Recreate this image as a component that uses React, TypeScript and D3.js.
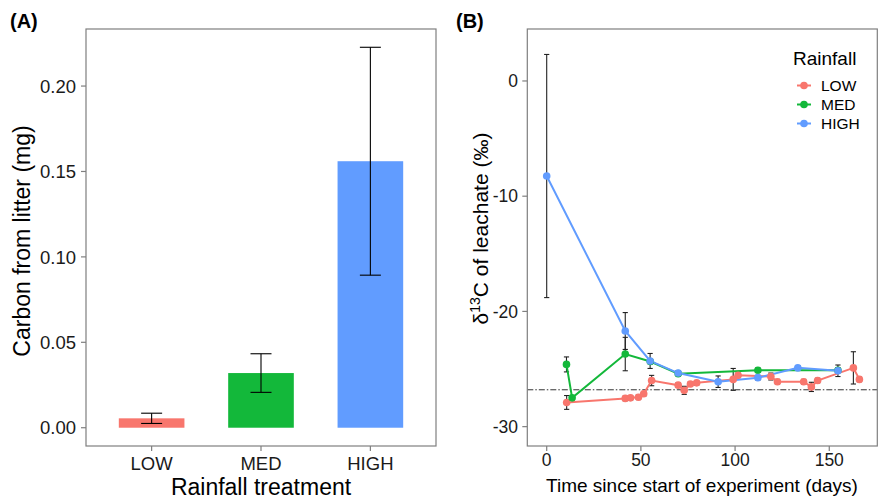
import * as d3 from "d3";

// panel A: carbon from litter (mg)
const treatments = ["LOW", "MED", "HIGH"];
const carbonMean = [0.0055, 0.032, 0.156];
const carbonSe = [0.003, 0.0113, 0.0667];
const treatColors = ["#F8766D", "#13B83A", "#619CFF"];
const carbonTicks = [0, 0.05, 0.1, 0.15, 0.2];

// panel B: d13C of leachate over time
const lowDays = [10.6, 41.7, 44.5, 48.7, 51.5, 55.7, 69.8, 73.0, 76.3, 79.6, 99.0, 101.6, 119.0, 122.5, 136.4, 140.5, 143.8, 162.8, 166.0];
const lowD13C = [-27.9, -27.55, -27.5, -27.45, -27.15, -26.0, -26.4, -26.85, -26.3, -26.2, -25.9, -25.55, -25.65, -26.1, -26.1, -26.55, -26.0, -24.9, -25.9];
const lowSe = [0.6, 0.2, 0.2, 0.2, 0.2, 0.45, 0.2, 0.35, 0.2, 0.2, 0.95, 0.2, 0.3, 0.2, 0.2, 0.4, 0.2, 1.4, 0.2];

const medDays = [10.5, 13.5, 41.7, 55.0, 69.8, 112.1, 154.6];
const medD13C = [-24.6, -27.5, -23.7, -24.35, -25.4, -25.1, -25.1];
const medSe = [0.65, 0.2, 1.45, 0.2, 0.2, 0.2, 0.2];

const highDays = [0, 41.7, 54.9, 69.8, 91.0, 112.1, 133.3, 154.6];
const highD13C = [-8.25, -21.7, -24.3, -25.35, -26.1, -25.75, -24.9, -25.15];
const highSe = [10.55, 1.6, 0.65, 0.2, 0.5, 0.2, 0.2, 0.5];

const litterRef = -26.8;
const dayTicks = [0, 50, 100, 150];
const d13CTicks = [0, -10, -20, -30];

const font = "'Liberation Sans', Arial, Helvetica, sans-serif";

const App = () => {
  const top = 29;
  const bottom = 446;

  // panel A scales
  const xA = d3.scalePoint().domain(treatments).range([86, 436]).padding(0.6);
  const stepA = xA.step();
  const yA = d3.scaleLinear().domain([-0.0107, 0.2334]).range([bottom, top]);
  const fmtA = d3.format(".2f");

  // panel B scales
  const xB = d3.scaleLinear().domain([-10.3, 175.5]).range([527.3, 877.3]);
  const yB = d3.scaleLinear().domain([-31.68, 4.51]).range([bottom, top]);
  const line = d3.line().x((d) => xB(d[0])).y((d) => yB(d[1]));

  const series = [
    { name: "LOW", days: lowDays, mean: lowD13C, se: lowSe, color: treatColors[0] },
    { name: "MED", days: medDays, mean: medD13C, se: medSe, color: treatColors[1] },
    { name: "HIGH", days: highDays, mean: highD13C, se: highSe, color: treatColors[2] },
  ];

  const frame = "#7f7f7f";

  return (
    <svg width={893} height={501} style={{ position: "absolute", left: 0, top: 0, background: "#fff" }} fontFamily={font}>
      {/* ---------- panel A ---------- */}
      <text x={10} y={28} fontSize={20} fontWeight="bold">(A)</text>
      {treatments.map((t, i) => {
        const cx = xA(t);
        const w = stepA * 0.6;
        return (
          <g key={t}>
            <rect x={cx - w / 2} y={yA(carbonMean[i])} width={w} height={yA(0) - yA(carbonMean[i])} fill={treatColors[i]} />
            <line x1={cx} x2={cx} y1={yA(carbonMean[i] + carbonSe[i])} y2={yA(carbonMean[i] - carbonSe[i])} stroke="#000" strokeWidth={1.1} />
            <line x1={cx - 10.5} x2={cx + 10.5} y1={yA(carbonMean[i] + carbonSe[i])} y2={yA(carbonMean[i] + carbonSe[i])} stroke="#000" strokeWidth={1.1} />
            <line x1={cx - 10.5} x2={cx + 10.5} y1={yA(carbonMean[i] - carbonSe[i])} y2={yA(carbonMean[i] - carbonSe[i])} stroke="#000" strokeWidth={1.1} />
          </g>
        );
      })}
      <rect x={86} y={top} width={350} height={bottom - top} fill="none" stroke={frame} strokeWidth={1.2} />
      {carbonTicks.map((v) => (
        <g key={v}>
          <line x1={81} x2={86} y1={yA(v)} y2={yA(v)} stroke={frame} strokeWidth={1.2} />
          <text x={76} y={yA(v)} dy="0.36em" textAnchor="end" fontSize={18.5} fill="#1a1a1a">{fmtA(v)}</text>
        </g>
      ))}
      {treatments.map((t) => (
        <g key={t}>
          <line x1={xA(t)} x2={xA(t)} y1={bottom} y2={bottom + 5} stroke={frame} strokeWidth={1.2} />
          <text x={xA(t)} y={470} textAnchor="middle" fontSize={18.5} fill="#1a1a1a">{t}</text>
        </g>
      ))}
      <text x={261} y={495} textAnchor="middle" fontSize={23}>Rainfall treatment</text>
      <text transform="translate(29.5,241) rotate(-90)" textAnchor="middle" fontSize={23}>Carbon from litter (mg)</text>

      {/* ---------- panel B ---------- */}
      <text x={456} y={28} fontSize={20} fontWeight="bold">(B)</text>
      <line x1={527.3} x2={877.3} y1={yB(litterRef)} y2={yB(litterRef)} stroke="#333" strokeWidth={1} strokeDasharray="6 2 1.5 2" />
      {series.map((s) => (
        <g key={s.name + "err"}>
          {s.days.map((d, i) => (
            <g key={i}>
              <line x1={xB(d)} x2={xB(d)} y1={yB(s.mean[i] + s.se[i])} y2={yB(s.mean[i] - s.se[i])} stroke="#222" strokeWidth={1.1} />
              <line x1={xB(d) - 2.6} x2={xB(d) + 2.6} y1={yB(s.mean[i] + s.se[i])} y2={yB(s.mean[i] + s.se[i])} stroke="#222" strokeWidth={1.1} />
              <line x1={xB(d) - 2.6} x2={xB(d) + 2.6} y1={yB(s.mean[i] - s.se[i])} y2={yB(s.mean[i] - s.se[i])} stroke="#222" strokeWidth={1.1} />
            </g>
          ))}
        </g>
      ))}
      {series.map((s) => (
        <path key={s.name + "line"} d={line(s.days.map((d, i) => [d, s.mean[i]])) || ""} fill="none" stroke={s.color} strokeWidth={2} />
      ))}
      {series.map((s) => (
        <g key={s.name + "pts"}>
          {s.days.map((d, i) => (
            <circle key={i} cx={xB(d)} cy={yB(s.mean[i])} r={3.8} fill={s.color} />
          ))}
        </g>
      ))}
      <rect x={527.3} y={top} width={350} height={bottom - top} fill="none" stroke={frame} strokeWidth={1.2} />
      {d13CTicks.map((v) => (
        <g key={v}>
          <line x1={522.3} x2={527.3} y1={yB(v)} y2={yB(v)} stroke={frame} strokeWidth={1.2} />
          <text x={518} y={yB(v)} dy="0.36em" textAnchor="end" fontSize={17.5} fill="#1a1a1a">{v}</text>
        </g>
      ))}
      {dayTicks.map((v) => (
        <g key={v}>
          <line x1={xB(v)} x2={xB(v)} y1={bottom} y2={bottom + 5} stroke={frame} strokeWidth={1.2} />
          <text x={xB(v)} y={466} textAnchor="middle" fontSize={17.5} fill="#1a1a1a">{v}</text>
        </g>
      ))}
      <text x={702} y={492} textAnchor="middle" fontSize={19}>Time since start of experiment (days)</text>
      <text transform="translate(488,228.5) rotate(-90)" textAnchor="middle" fontSize={21}>
        <tspan>δ</tspan>
        <tspan fontSize={14} dy={-8}>13</tspan>
        <tspan dy={8}>C of leachate (‰)</tspan>
      </text>

      {/* legend */}
      <text x={793} y={65} fontSize={19}>Rainfall</text>
      {series.map((s, i) => {
        const ly = 85.5 + i * 19;
        return (
          <g key={s.name + "leg"}>
            <line x1={797} x2={811} y1={ly} y2={ly} stroke={s.color} strokeWidth={2} />
            <circle cx={804} cy={ly} r={3.8} fill={s.color} />
            <text x={821} y={ly} dy="0.36em" fontSize={15.5}>{s.name}</text>
          </g>
        );
      })}
    </svg>
  );
};

export default App;
